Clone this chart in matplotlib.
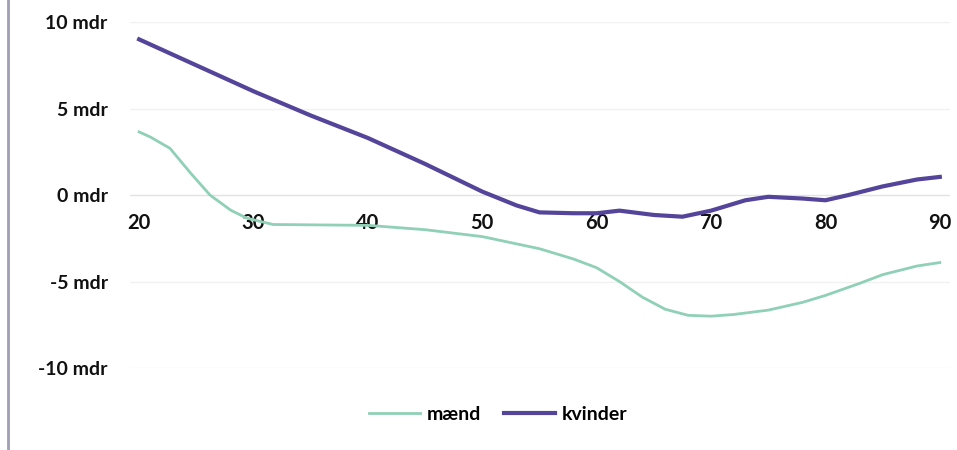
import matplotlib.pyplot as plt
from matplotlib.lines import Line2D

# alder og forskel i måneder
alder = [20, 21, 22.7, 24.5, 26.2, 28, 29.4, 31.7, 35, 40, 45, 50, 55, 58, 60, 62, 64, 66, 68, 70, 72, 75, 78, 80, 83, 85, 88, 90]
maend = [3.65, 3.35, 2.7, 1.27, 0.0, -0.87, -1.33, -1.7, -1.72, -1.75, -2.0, -2.4, -3.1, -3.7, -4.2, -5.0, -5.9, -6.6, -6.95, -7.0, -6.9, -6.65, -6.2, -5.8, -5.1, -4.6, -4.1, -3.9]

alder_k = [20, 25, 30, 35, 40, 45, 50, 53, 55, 58, 60, 62, 65, 67.5, 70, 73, 75, 78, 80, 82, 85, 88, 90]
kvinder = [9.0, 7.5, 6.0, 4.6, 3.3, 1.8, 0.2, -0.6, -1.0, -1.05, -1.05, -0.9, -1.15, -1.25, -0.9, -0.3, -0.1, -0.2, -0.3, 0.0, 0.5, 0.9, 1.05]

y_ticks = [10, 5, 0, -5, -10]
y_labels = ['10 mdr', '5 mdr', '0 mdr', '-5 mdr', '-10 mdr']
x_ticks = [20, 30, 40, 50, 60, 70, 80, 90]

plt.rcParams['font.family'] = ['Lato', 'DejaVu Sans']
plt.rcParams['font.weight'] = 'bold'

fig = plt.figure(figsize=(9.57, 4.5), dpi=100)
ax = fig.add_axes([0.1358, 0.182, 0.857, 0.769])

# svage gitterlinjer
for v in y_ticks:
    ax.axhline(v, color='#e2e2e2' if v == 0 else '#f1f1f1', lw=1, zorder=0)

ax.plot(alder, maend, color='#8fd0b6', lw=2, label='mænd')
ax.plot(alder_k, kvinder, color='#54449a', lw=3, label='kvinder')

ax.set_xlim(19.2, 90.9)
ax.set_ylim(-10, 10)
ax.set_yticks(y_ticks)
ax.set_yticklabels(y_labels)
ax.set_xticks(x_ticks)

for s in ax.spines.values():
    s.set_visible(False)
ax.spines['bottom'].set_position(('data', 0))
ax.tick_params(axis='y', length=0, pad=16, labelsize=14, colors='#111111')
ax.tick_params(axis='x', length=0, pad=13, labelsize=14.5, colors='#111111')

fig.legend(loc='center', bbox_to_anchor=(498 / 957, 1 - 414 / 450), ncol=2,
           frameon=False, handlelength=2.6, fontsize=14, columnspacing=1.2,
           handletextpad=0.35)

# venstre ramme
fig.add_artist(Line2D([8 / 957, 8 / 957], [0, 1], color='#a09eb5', lw=2))

fig.savefig('out.png', dpi=100)
